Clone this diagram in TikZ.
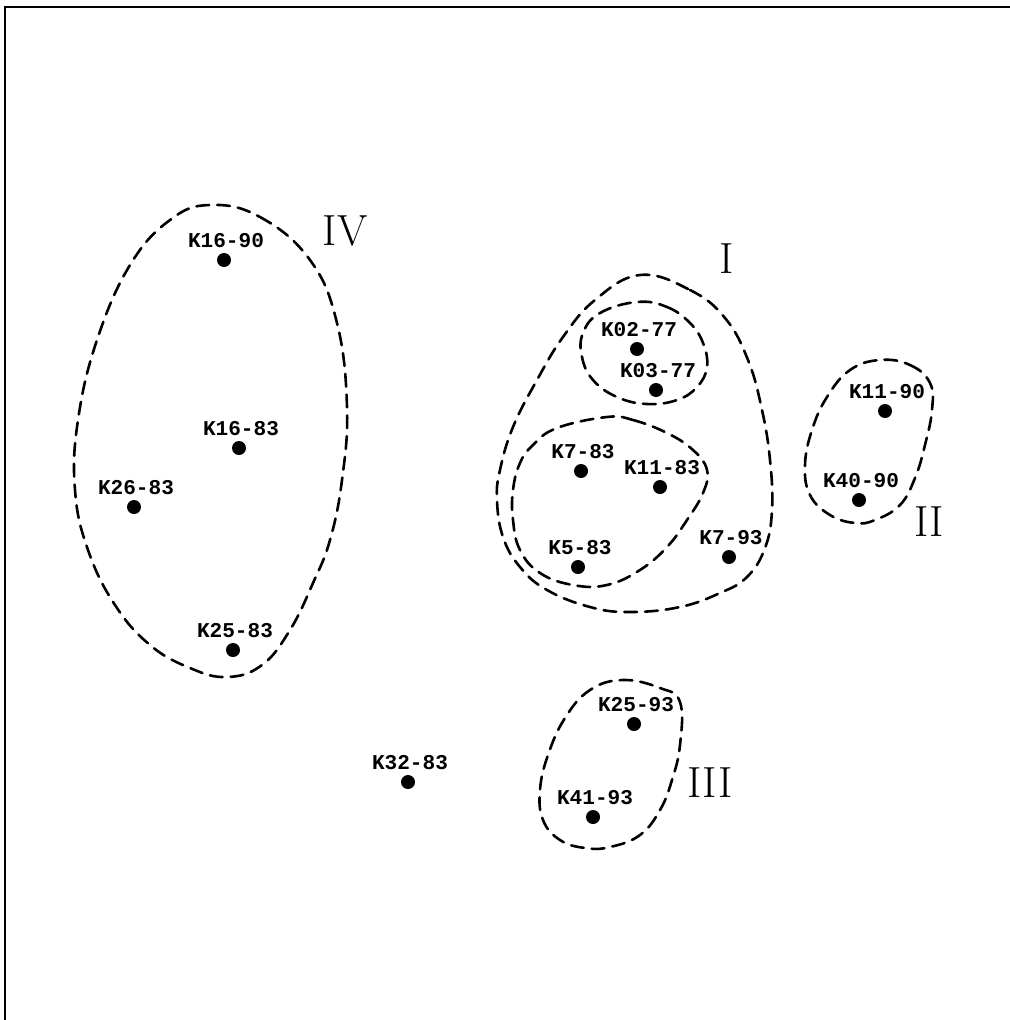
\documentclass[tikz,border=0pt]{standalone}
\usepackage{fontspec}
\newfontfamily\plotfont{Liberation Mono}
\usetikzlibrary{calc}
\begin{document}
\begin{tikzpicture}[x=0.25mm,y=-0.25mm,
  dot/.style={circle,fill=black,inner sep=0pt,minimum size=3.5mm},
  lab/.style={font=\plotfont\bfseries\fontsize{15}{15}\selectfont,inner sep=0pt},
  roman/.style={font=\fontsize{31}{32}\selectfont,inner sep=0pt},
  hull/.style={dash pattern=on 3.2mm off 2mm,line width=0.65mm,line cap=round},
  frame/.style={line width=0.65mm}
]
\useasboundingbox (0,0) rectangle (1010,1020);
\draw[frame] (5,1020) -- (5,7) -- (1010,7);

% points and labels
\foreach \nm/\x/\y/\t in {
  a/224/260/K16-90, b/239/448/K16-83, c/134/507/K26-83, d/233/650/K25-83,
  e/408/782/K32-83, f/637/349/K02-77, g/656/390/K03-77, h/581/471/K7-83,
  i/660/487/K11-83, j/578/567/K5-83, k/729/557/K7-93, l/885/411/K11-90,
  m/859/500/K40-90, n/634/724/K25-93, o/593/817/K41-93}{
  \node[dot] (\nm) at (\x,\y) {};
  \node[lab] (\nm-lab) at ($(\nm)+(2,-19)$) {\t};
}

% group labels
\node[roman] (rIV) at (345,231) {IV};
\node[roman] (rI) at (727,259) {I};
\node[roman] (rII) at (929,522) {II};
\node[roman] (rIII) at (710,783) {III};

% group IV
\draw[hull] plot[smooth cycle,tension=0.7] coordinates {
 (210,205) (260,217) (310,260) (337,323) (347,407) (342,480) (330,540)
 (313,583) (290,630) (262,665) (227,677) (190,668) (150,645) (115,605)
 (88,550) (75,490) (78,420) (97,340) (130,265) (170,220)};

% group I outer
\draw[hull] plot[smooth cycle,tension=0.7] coordinates {
 (640,275) (690,290) (725,318) (748,360) (762,410) (770,460) (772,510)
 (765,548) (747,577) (720,593) (680,607) (630,612) (590,607) (547,590)
 (520,567) (503,537) (497,500) (500,470) (513,427) (537,380) (563,337)
 (595,300)};

% group I inner top
\draw[hull] plot[smooth cycle,tension=0.7] coordinates {
 (637,302) (667,307) (690,323) (703,343) (707,367) (697,387) (677,400)
 (647,404) (617,397) (593,380) (582,357) (583,333) (600,313)};

% group I inner lower
\draw[hull] plot[smooth cycle,tension=0.7] coordinates {
 (607,417) (633,420) (667,433) (693,450) (707,470) (703,493) (687,520)
 (667,547) (640,570) (607,585) (573,585) (540,573) (520,550) (513,520)
 (513,490) (520,463) (533,445) (557,428)};

% group II
\draw[hull] plot[smooth cycle,tension=0.7] coordinates {
 (880,360) (910,365) (930,383) (932,410) (925,445) (915,478) (900,505)
 (875,520) (855,523) (830,515) (810,495) (805,465) (812,430) (827,397)
 (850,370)};

% group III
\draw[hull] plot[smooth cycle,tension=0.7] coordinates {
 (623,680) (660,688) (680,702) (680,745) (672,780) (660,810) (640,835)
 (610,847) (585,848) (560,840) (543,820) (540,790) (548,755) (565,718)
 (590,690)};
\end{tikzpicture}
\end{document}
